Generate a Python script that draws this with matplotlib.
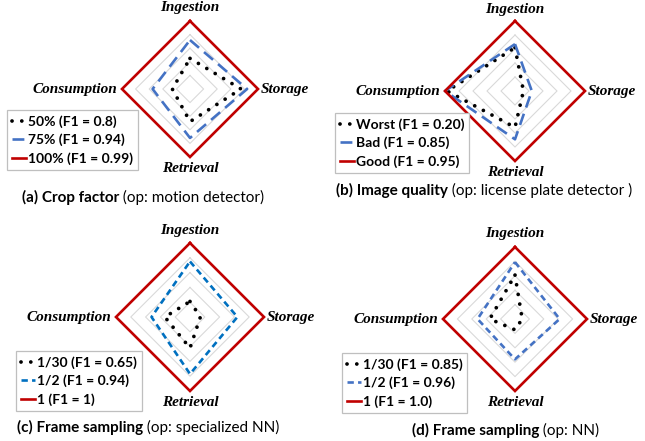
import numpy as np
import matplotlib
matplotlib.use("Agg")
import matplotlib.pyplot as plt

W, H = 645, 441

axis_names = ["Ingestion", "Storage", "Retrieval", "Consumption"]

# values are read as fraction of the outer (red) ring, order = axis_names
crop_labels = ["50% (F1 = 0.8)", "75% (F1 = 0.94)", "100% (F1 = 0.99)"]
crop_50 = [0.45, 0.75, 0.48, 0.26]
crop_75 = [0.72, 0.84, 0.72, 0.55]
crop_100 = [1.0, 1.0, 1.0, 1.0]

quality_labels = ["Worst (F1 = 0.20)", "Bad (F1 = 0.85)", "Good (F1 = 0.95)"]
quality_worst = [0.62, 0.12, 0.52, 0.97]
quality_bad = [0.67, 0.24, 0.69, 1.0]
quality_good = [1.0, 1.0, 1.0, 1.0]

snn_labels = ["1/30 (F1 = 0.65)", "1/2 (F1 = 0.94)", "1 (F1 = 1)"]
snn_1_30 = [0.21, 0.14, 0.42, 0.34]
snn_1_2 = [0.75, 0.64, 0.77, 0.52]
snn_1 = [1.0, 1.0, 1.0, 1.0]

nn_labels = ["1/30 (F1 = 0.85)", "1/2 (F1 = 0.96)", "1 (F1 = 1.0)"]
nn_1_30 = [0.61, 0.10, 0.15, 0.35]
nn_1_2 = [0.79, 0.62, 0.56, 0.52]
nn_1 = [1.0, 1.0, 1.0, 1.0]

grid_levels = [0.2, 0.4, 0.6, 0.8]

angles = np.deg2rad([90, 0, 270, 180])
RED = "#C00000"
GRAY = "#D9D9D9"
SERIF = "Liberation Serif"
SANS = "Lato"

fig = plt.figure(figsize=(W / 100, H / 100), dpi=100)


def to_xy(vals):
    v = np.append(vals, vals[0])
    a = np.append(angles, angles[0])
    return v * np.cos(a), v * np.sin(a)


def radar(cx, cy, r, series, labels, blue, blue_dash, legend_xy, top_pad=13):
    L = 1.8
    ax = fig.add_axes([(cx - L * r) / W, (H - cy - L * r) / H, 2 * L * r / W, 2 * L * r / H])
    ax.set_xlim(-L, L)
    ax.set_ylim(-L, L)
    ax.axis("off")
    for g in grid_levels:
        gx, gy = to_xy([g] * 4)
        ax.plot(gx, gy, color=GRAY, lw=0.8, zorder=1)
    styles = [
        dict(color="black", lw=2.7, linestyle=(0, (0.01, 2.6)), dash_capstyle="round"),
        dict(color=blue, lw=1.9, linestyle=(0, blue_dash)),
        dict(color=RED, lw=1.9, solid_joinstyle="miter"),
    ]
    for vals, lab, st in zip(series, labels, styles):
        x, y = to_xy(vals)
        ax.plot(x, y, label=lab, zorder=3, **st)
    lab_kw = dict(fontfamily=SERIF, fontweight="bold", fontstyle="italic", fontsize=11,
                  textcoords="offset pixels")
    ax.annotate(axis_names[0], (0, 1), xytext=(0, top_pad), ha="center", va="center", **lab_kw)
    ax.annotate(axis_names[1], (1, 0), xytext=(3, 0), ha="left", va="center", **lab_kw)
    ax.annotate(axis_names[2], (0, -1), xytext=(0, -12), ha="center", va="center", **lab_kw)
    ax.annotate(axis_names[3], (-1, 0), xytext=(-5, 0), ha="right", va="center", **lab_kw)
    leg = ax.legend(loc="upper left", bbox_to_anchor=(legend_xy[0] / W, 1 - legend_xy[1] / H),
                    bbox_transform=fig.transFigure, prop=dict(family=SANS, weight="bold", size=10),
                    handlelength=1.0, handletextpad=0.15, labelspacing=0.45, borderpad=0.35,
                    fancybox=False, edgecolor="#BFBFBF", framealpha=1, borderaxespad=0)
    leg.get_frame().set_linewidth(0.9)
    return ax


def caption(x, y, bold, rest):
    t = fig.text(x / W, 1 - y / H, bold, fontfamily=SANS, fontweight="bold", fontsize=11,
                 ha="left", va="center")
    plt.annotate(" " + rest, xy=(1, 0.5), xycoords=t, ha="left", va="center",
                 fontfamily=SANS, fontsize=11, annotation_clip=False)


radar(190, 89, 68, [crop_50, crop_75, crop_100], crop_labels, "#4472C4", (4.5, 2.5), (7, 110))
radar(515, 91, 70, [quality_worst, quality_bad, quality_good], quality_labels, "#4472C4", (4.5, 2.5),
      (335, 113), top_pad=12)
radar(190, 317, 74, [snn_1_30, snn_1_2, snn_1], snn_labels, "#0070C0", (2.4, 1.6), (16, 351))
radar(515, 319, 72, [nn_1_30, nn_1_2, nn_1], nn_labels, "#4472C4", (2.4, 1.6), (342, 353))

caption(22, 197, "(a) Crop factor", "(op: motion detector)")
caption(336, 190, "(b) Image quality", "(op: license plate detector )")
caption(17, 427, "(c) Frame sampling", "(op: specialized NN)")
caption(412, 430, "(d) Frame sampling", "(op: NN)")

fig.savefig("out.png", dpi=100)
